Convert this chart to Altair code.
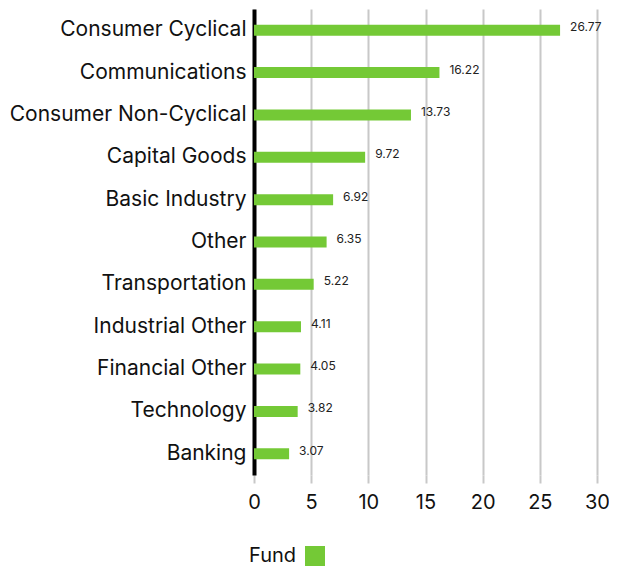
import altair as alt
import pandas as pd

categories = ["Consumer Cyclical", "Communications", "Consumer Non-Cyclical", "Capital Goods",
              "Basic Industry", "Other", "Transportation", "Industrial Other",
              "Financial Other", "Technology", "Banking"]
values = [26.77, 16.22, 13.73, 9.72, 6.92, 6.35, 5.22, 4.11, 4.05, 3.82, 3.07]
series = ["Fund"] * len(categories)
x_ticks = [0, 5, 10, 15, 20, 25, 30]

df = pd.DataFrame({"category": categories, "value": values, "series": series})
FONT = "Inter"
GREEN = "#74C936"

y_enc = alt.Y("category:N", sort=categories, title=None,
              scale=alt.Scale(paddingInner=0.74, paddingOuter=0.37),
              axis=alt.Axis(domain=True, domainColor="#000000", domainWidth=4,
                            ticks=False, labelFontSize=21, labelColor="#111111",
                            labelFont=FONT, labelPadding=8, labelLimit=400, grid=False))
x_enc = alt.X("value:Q", title=None,
              scale=alt.Scale(domain=[0, 30], nice=False),
              axis=alt.Axis(values=x_ticks, domain=False, grid=True, gridColor="#c8c8c8",
                            gridWidth=2, ticks=True, tickColor="#c8c8c8", tickWidth=2,
                            tickSize=8, labelFontSize=20, labelColor="#111111",
                            labelFont=FONT, labelPadding=9, labelFlush=False))

bars = alt.Chart(df).mark_bar(size=11).encode(
    x=x_enc, y=y_enc,
    color=alt.Color("series:N", scale=alt.Scale(range=[GREEN]),
                    legend=alt.Legend(orient="none", legendX=-5, legendY=537,
                                      title="Fund", titleOrient="left", titleFontSize=20,
                                      titleFont=FONT, titleFontWeight="normal",
                                      titleColor="#111111", titleBaseline="middle",
                                      titlePadding=8,
                                      symbolType="square", symbolSize=400,
                                      symbolStrokeWidth=0, labelExpr="''",
                                      labelFontSize=1))
)

labels = alt.Chart(df).mark_text(align="left", baseline="middle", dx=10, dy=-3,
                                 fontSize=12, font=FONT, color="#222222").encode(
    x=alt.X("value:Q"), y=alt.Y("category:N", sort=categories), text=alt.Text("value:Q", format=".2f")
)

chart = (bars + labels).properties(
    width=343, height=466,
    autosize=alt.AutoSizeParams(type="none"),
    padding={"left": 246, "top": 1, "right": 12, "bottom": 91}
).configure_view(stroke=None)

chart.save("out.html", embed_options={"renderer": "svg", "actions": False})
